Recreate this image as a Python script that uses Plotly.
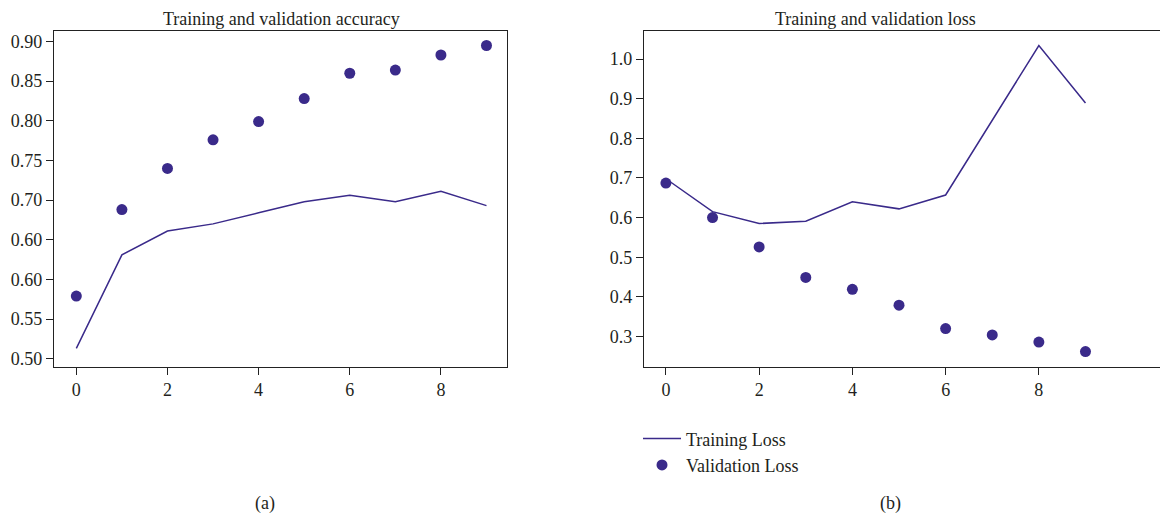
import plotly.graph_objects as go

epochs = list(range(10))

# Accuracy panel (a)
train_acc = [0.513, 0.631, 0.661, 0.670, 0.684, 0.698, 0.706, 0.698, 0.711, 0.693]
val_acc = [0.579, 0.688, 0.740, 0.776, 0.799, 0.828, 0.860, 0.864, 0.883, 0.895]
acc_tickvals = [0.50, 0.55, 0.60, 0.65, 0.70, 0.75, 0.80, 0.85, 0.90]
acc_ticktext = ["0.50", "0.55", "0.60", "0.60", "0.70", "0.75", "0.80", "0.85", "0.90"]

# Loss panel (b)
train_loss = [0.698, 0.615, 0.585, 0.591, 0.640, 0.622, 0.657, 0.845, 1.034, 0.889]
val_loss = [0.687, 0.600, 0.526, 0.449, 0.419, 0.379, 0.320, 0.304, 0.286, 0.262]
loss_tickvals = [0.3, 0.4, 0.5, 0.6, 0.7, 0.8, 0.9, 1.0]
loss_ticktext = ["0.3", "0.4", "0.5", "0.6", "0.7", "0.8", "0.9", "1.0"]

x_tickvals = [0, 2, 4, 6, 8]

COLOR = "#3a2a8a"
TXT = "#231f20"
FONT = "Liberation Serif"
OFF = 8  # page body margin
W, H = 1168 - OFF, 520 - OFF


def px(x):
    return (x - OFF) / W


def py(y):
    return 1 - (y - OFF) / H


fig = go.Figure()

fig.add_trace(go.Scatter(x=epochs, y=train_acc, mode="lines", line=dict(color=COLOR, width=1.5),
                         xaxis="x", yaxis="y", showlegend=False, name="Training Accuracy"))
fig.add_trace(go.Scatter(x=epochs, y=val_acc, mode="markers", marker=dict(color=COLOR, size=11),
                         xaxis="x", yaxis="y", showlegend=False, name="Validation Accuracy"))
fig.add_trace(go.Scatter(x=epochs, y=train_loss, mode="lines", line=dict(color=COLOR, width=1.5),
                         xaxis="x2", yaxis="y2", name="Training Loss"))
fig.add_trace(go.Scatter(x=epochs, y=val_loss, mode="markers", marker=dict(color=COLOR, size=11),
                         xaxis="x2", yaxis="y2", name="Validation Loss"))

axis_common = dict(showgrid=False, zeroline=False, showline=True, linecolor="#222", linewidth=1.3,
                   ticks="outside", ticklen=7, tickcolor="#222", tickwidth=1,
                   tickfont=dict(family=FONT, size=18, color=TXT))

ybot = py(368)
ytop = py(31)

fig.update_layout(
    width=W, height=H,
    margin=dict(l=0, r=0, t=0, b=0),
    paper_bgcolor="white", plot_bgcolor="white",
    font=dict(family=FONT, color=TXT),
    xaxis=dict(domain=[px(54), px(507)], range=[-0.49, 9.45], tickvals=x_tickvals,
               mirror=True, anchor="y", **axis_common),
    yaxis=dict(domain=[ybot, ytop], range=[0.49, 0.9134], tickvals=acc_tickvals,
               ticktext=acc_ticktext, mirror=True, anchor="x", **axis_common),
    xaxis2=dict(domain=[px(644), 1.0], range=[-0.47, 10.77], tickvals=x_tickvals,
                mirror=True, anchor="y2", **axis_common),
    yaxis2=dict(domain=[ybot, ytop], range=[0.224, 1.071], tickvals=loss_tickvals,
                ticktext=loss_ticktext, anchor="x2", **axis_common),
    legend=dict(x=px(638), y=py(422), xanchor="left", yanchor="top",
                font=dict(family=FONT, size=18, color=TXT), bgcolor="rgba(0,0,0,0)",
                tracegroupgap=0, itemwidth=38),
    annotations=[
        dict(text="Training and validation accuracy", x=px(281), y=1.0, xref="paper", yref="paper",
             showarrow=False, font=dict(family=FONT, size=18, color=TXT), xanchor="center", yanchor="top",
             borderpad=0),
        dict(text="Training and validation loss", x=px(875), y=1.0, xref="paper", yref="paper",
             showarrow=False, font=dict(family=FONT, size=18, color=TXT), xanchor="center", yanchor="top",
             borderpad=0),
        dict(text="(a)", x=px(265), y=py(505), xref="paper", yref="paper",
             showarrow=False, font=dict(family=FONT, size=18, color=TXT), xanchor="center", yanchor="middle"),
        dict(text="(b)", x=px(890), y=py(505), xref="paper", yref="paper",
             showarrow=False, font=dict(family=FONT, size=18, color=TXT), xanchor="center", yanchor="middle"),
    ],
)

fig.write_html("out.html")
